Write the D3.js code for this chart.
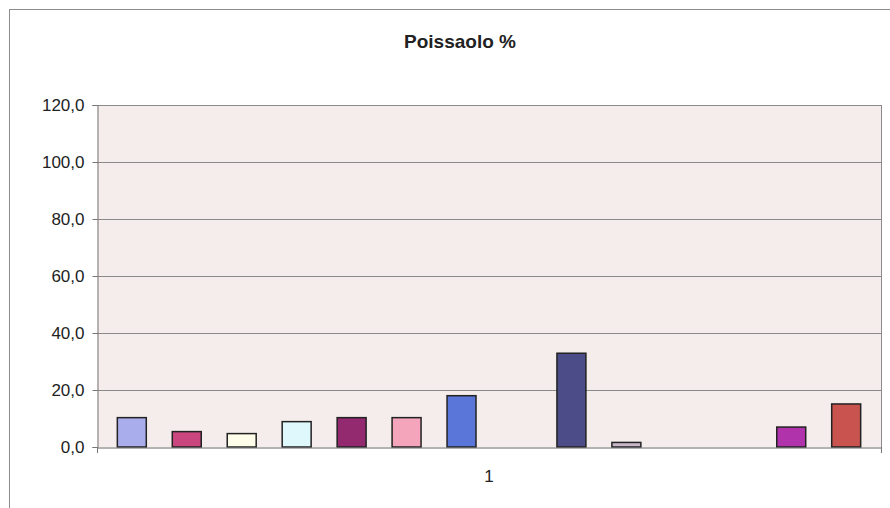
<!DOCTYPE html>
<html>
<head>
<meta charset="utf-8">
<script src="https://cdn.jsdelivr.net/npm/d3@7"></script>
<style>
  html, body { margin: 0; padding: 0; background: #ffffff; }
  svg { display: block; }
  text { font-family: "Liberation Sans", Arial, sans-serif; fill: #222; }
</style>
</head>
<body>
<svg id="chart" width="890" height="508"></svg>
<script>
// Chart data
const title = "Poissaolo %";
const categories = ["1"];
const seriesNames = ["Sarja 1", "Sarja 2", "Sarja 3", "Sarja 4", "Sarja 5", "Sarja 6", "Sarja 7",
                     "Sarja 8", "Sarja 9", "Sarja 10", "Sarja 11", "Sarja 12", "Sarja 13", "Sarja 14"];
const seriesValues = [10.3, 5.4, 4.7, 8.9, 10.3, 10.3, 18.0, 0, 32.9, 1.6, 0, 0, 7.0, 15.1];
const seriesColors = ["#a9adec", "#c9477e", "#fdfdea", "#def8fc", "#93296f", "#f4a5bb", "#5b76d9",
                      "#c8c8f4", "#4b4c88", "#c9b7c9", "#e8e860", "#9ff", "#b133ab", "#c9534f"];
const yTicks = [0, 20, 40, 60, 80, 100, 120];

const svg = d3.select("#chart");
const W = 890, H = 508;
const plot = { left: 97, top: 105, right: 881, bottom: 447 };

const fiLocale = d3.formatLocale({ decimal: ",", thousands: " ", grouping: [3], currency: ["", " €"] });
const fmt = fiLocale.format(".1f");

// Chart area frame
svg.append("rect")
  .attr("x", 9.5).attr("y", 9.5)
  .attr("width", 920).attr("height", 520)
  .attr("fill", "#ffffff")
  .attr("stroke", "#8c8c8c").attr("stroke-width", 1);

// Title
svg.append("text")
  .attr("x", 460).attr("y", 48)
  .attr("text-anchor", "middle")
  .attr("font-size", 19).attr("font-weight", "bold")
  .text(title);

// Scales
const y = d3.scaleLinear().domain([0, 120]).range([plot.bottom, plot.top]);
const x0 = d3.scaleBand().domain(categories).range([plot.left, plot.right]).padding(0);
const x1 = d3.scaleBand().domain(seriesNames)
  .range([0, x0.bandwidth()])
  .paddingInner(0.473).paddingOuter(0.37);

// Plot area background
svg.append("rect")
  .attr("x", plot.left).attr("y", plot.top)
  .attr("width", plot.right - plot.left).attr("height", plot.bottom - plot.top)
  .attr("fill", "#f4edeb");

// Gridlines
svg.append("g")
  .selectAll("line")
  .data(yTicks.filter(t => t > 0))
  .join("line")
  .attr("x1", plot.left).attr("x2", plot.right)
  .attr("y1", d => Math.round(y(d)) + 0.5).attr("y2", d => Math.round(y(d)) + 0.5)
  .attr("stroke", "#8a8a8a").attr("stroke-width", 1);

// Plot area sides
svg.append("line")
  .attr("x1", plot.right + 0.5).attr("x2", plot.right + 0.5)
  .attr("y1", plot.top).attr("y2", plot.bottom)
  .attr("stroke", "#8a8a8a");

// Bars
const catG = svg.append("g").selectAll("g")
  .data(categories)
  .join("g")
  .attr("transform", c => `translate(${x0(c)},0)`);

catG.selectAll("rect")
  .data(() => seriesNames.map((s, i) => ({ s, v: seriesValues[i], c: seriesColors[i] })).filter(d => d.v > 0))
  .join("rect")
  .attr("x", d => x1(d.s))
  .attr("y", d => y(d.v))
  .attr("width", x1.bandwidth())
  .attr("height", d => y(0) - y(d.v))
  .attr("fill", d => d.c)
  .attr("stroke", "#222")
  .attr("stroke-width", 1.5);

// Y axis
const yAxis = d3.axisLeft(y).tickValues(yTicks).tickFormat(fmt).tickSize(5).tickPadding(8);
const yG = svg.append("g")
  .attr("transform", `translate(${plot.left + 0.5},0)`)
  .call(yAxis);
yG.select(".domain").attr("stroke", "#777");
yG.selectAll(".tick line").attr("stroke", "#777");
yG.selectAll(".tick text")
  .attr("font-size", 17)
  .attr("font-family", "'Liberation Sans', Arial, sans-serif")
  .attr("fill", "#333");

// X axis
const xAxis = d3.axisBottom(x0).tickSize(0).tickPadding(22);
const xG = svg.append("g")
  .attr("transform", `translate(0,${plot.bottom + 0.5})`)
  .call(xAxis);
xG.select(".domain").attr("stroke", "#666");
xG.selectAll(".tick text")
  .attr("font-size", 17)
  .attr("font-family", "'Liberation Sans', Arial, sans-serif")
  .attr("fill", "#333");

// Category axis end marks
svg.append("g").selectAll("line")
  .data(x0.range())
  .join("line")
  .attr("x1", d => d + 0.5).attr("x2", d => d + 0.5)
  .attr("y1", plot.bottom).attr("y2", plot.bottom + 6)
  .attr("stroke", "#777");
</script>
</body>
</html>
